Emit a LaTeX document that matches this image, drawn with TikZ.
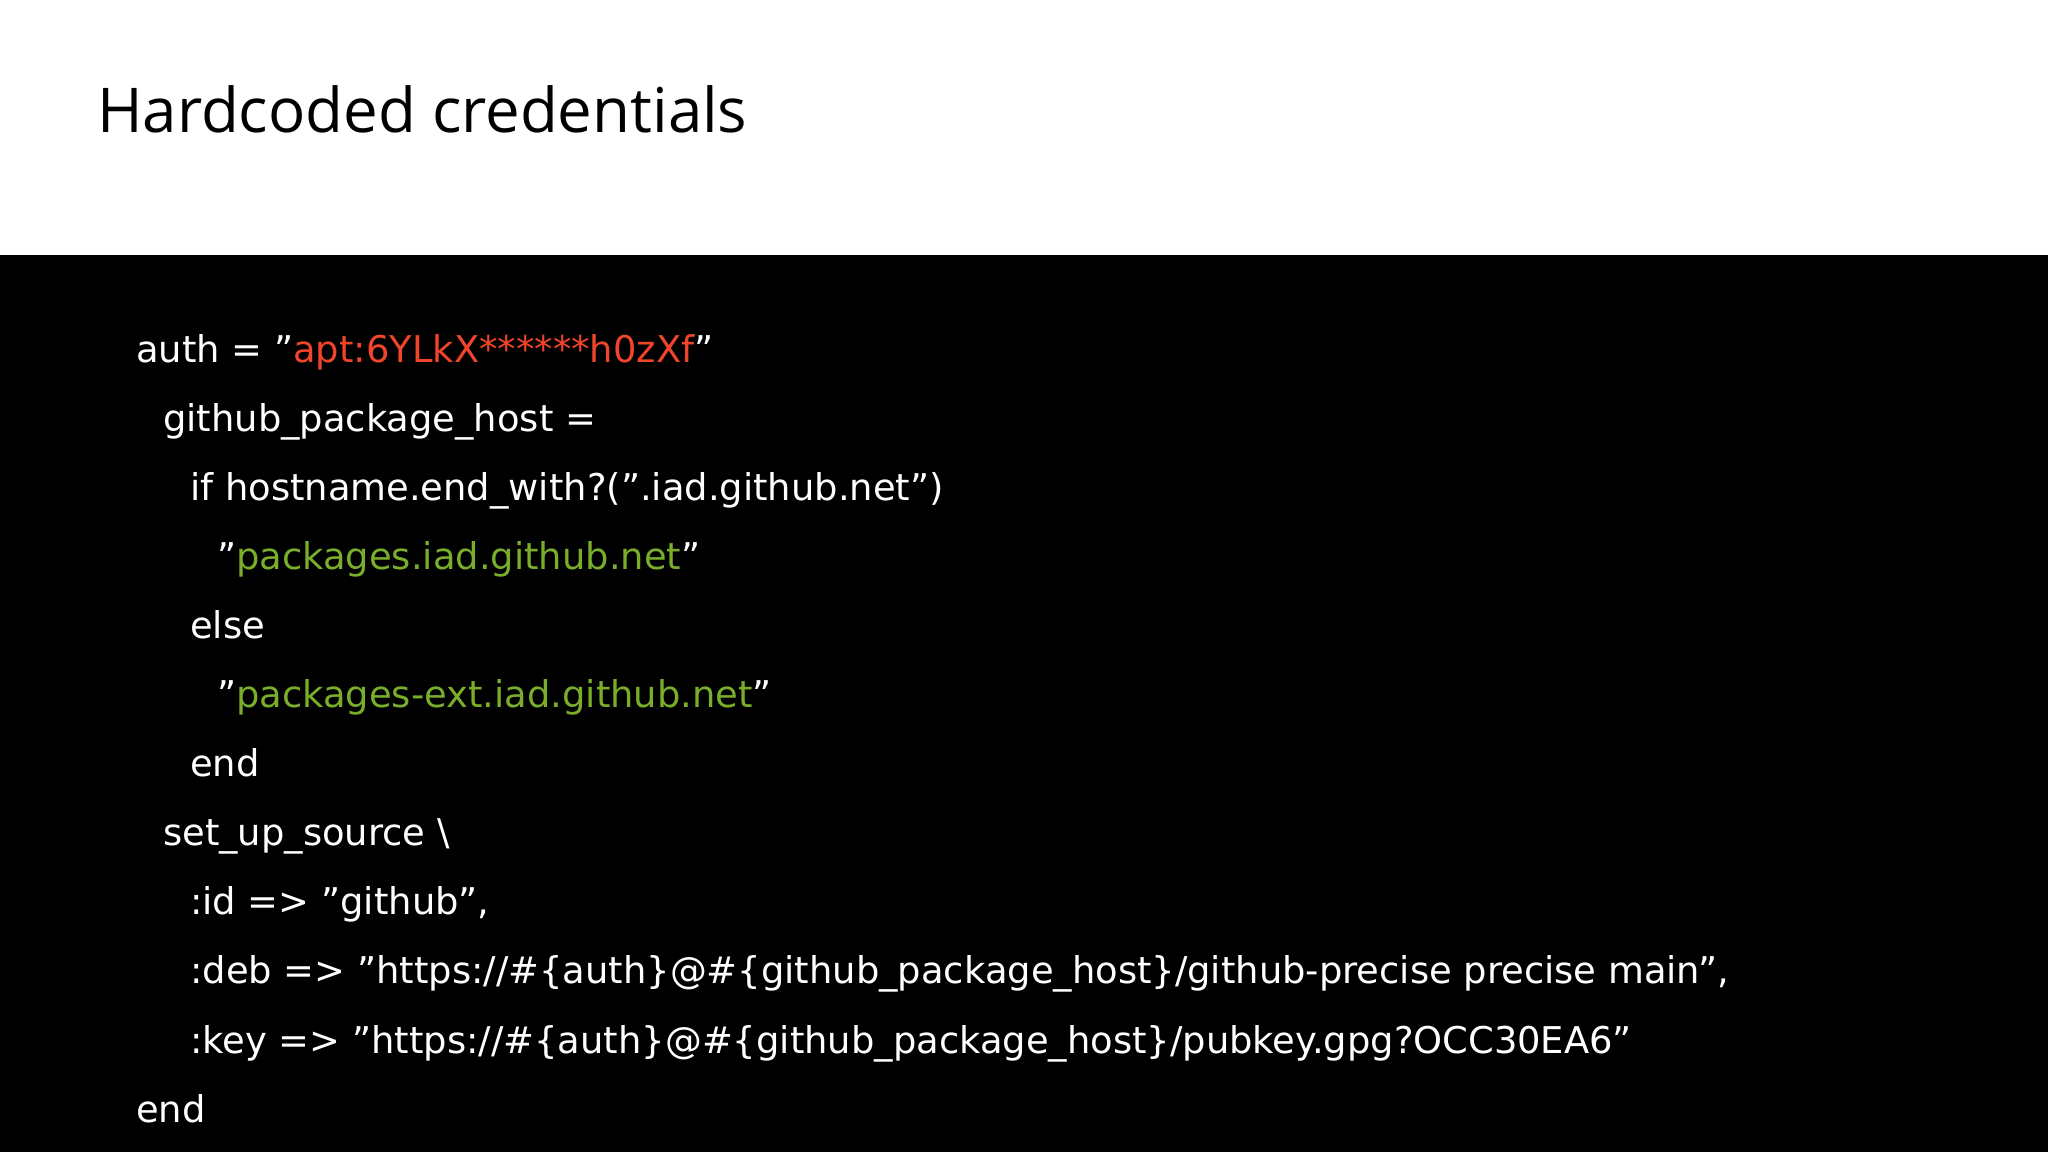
\documentclass[tikz,border=0pt]{standalone}
\usepackage{fontspec}
\setmainfont{DejaVu Sans}
\newfontfamily\titlefont{Open Sans}
\definecolor{codered}{HTML}{F0452A}
\definecolor{codegreen}{HTML}{7AAE2A}
\begin{document}
\begin{tikzpicture}[x=1bp,y=-1bp,
  codeline/.style={anchor=base west,inner sep=0pt,text=white,font=\fontsize{37}{44}\selectfont},
  titletext/.style={anchor=base west,inner sep=0pt,text=black,font=\titlefont\fontsize{62}{70}\selectfont}]
\useasboundingbox (0,0) rectangle (2048,1152);
\fill[white] (0,0) rectangle (2048,255);
\fill[black] (0,255) rectangle (2048,1152);
\node[titletext] (title) at (97,132) {Hardcoded credentials};
\def\lh{69.1}
\def\ind{27}
\node[codeline] (l1) at (136,362) {auth = "\textcolor{codered}{apt:6YLkX******h0zXf}"};
\node[codeline] (l2) at (136+\ind,362+\lh) {github\_package\_host =};
\node[codeline] (l3) at (136+2*\ind,362+2*\lh) {if hostname.end\_with?(".iad.github.net")};
\node[codeline] (l4) at (136+3*\ind,362+3*\lh) {"\textcolor{codegreen}{packages.iad.github.net}"};
\node[codeline] (l5) at (136+2*\ind,362+4*\lh) {else};
\node[codeline] (l6) at (136+3*\ind,362+5*\lh) {"\textcolor{codegreen}{packages-ext.iad.github.net}"};
\node[codeline] (l7) at (136+2*\ind,362+6*\lh) {end};
\node[codeline] (l8) at (136+\ind,362+7*\lh) {set\_up\_source \textbackslash};
\node[codeline] (l9) at (136+2*\ind,362+8*\lh) {:id => "github",};
\node[codeline] (l10) at (136+2*\ind,362+9*\lh) {:deb => "https://\#\{auth\}@\#\{github\_package\_host\}/github-precise precise main",};
\node[codeline] (l11) at (136+2*\ind,362+10*\lh) {:key => "https://\#\{auth\}@\#\{github\_package\_host\}/pubkey.gpg?OCC30EA6"};
\node[codeline] (l12) at (136,362+11*\lh) {end};
\end{tikzpicture}
\end{document}
